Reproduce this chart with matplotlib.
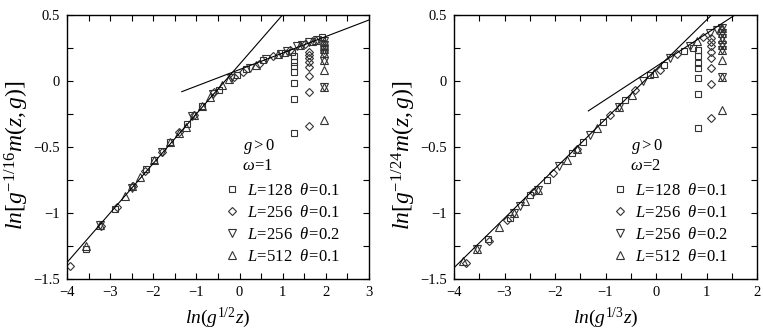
import matplotlib
matplotlib.use("Agg")
import matplotlib.pyplot as plt
from matplotlib.lines import Line2D
from matplotlib.ticker import MultipleLocator

plt.rcParams['font.family'] = ['Liberation Serif', 'DejaVu Serif']
plt.rcParams['mathtext.fontset'] = 'custom'
plt.rcParams['mathtext.rm'] = 'Liberation Serif'
plt.rcParams['mathtext.it'] = 'Liberation Serif:italic'
plt.rcParams['mathtext.bf'] = 'Liberation Serif:bold'

# ---------------- Panel 1 (omega = 1) ----------------
p1_sq_x = [-3.56, -2.88, -2.17, -1.98, -1.61, -1.22, -0.86, -0.48, -0.07, 0.16, 0.55, 1.05, 1.22, 1.90,
           1.27, 1.27, 1.27, 1.27, 1.27, 1.27, 1.27]
p1_sq_y = [-1.27, -0.97, -0.67, -0.60, -0.46, -0.33, -0.19, -0.07, 0.04, 0.09, 0.16, 0.21, 0.22, 0.33,
           0.19, 0.14, 0.11, 0.07, -0.015, -0.14, -0.395]
p1_dm_x = [-3.92, -3.22, -2.83, -2.46, -2.19, -1.79, -1.40, -1.05, -0.59, -0.12, 0.07, 0.45, 0.78, 1.17, 1.51,
           1.62, 1.62, 1.62, 1.62, 1.62, 1.62, 1.62, 1.62]
p1_dm_y = [-1.40, -1.10, -0.955, -0.80, -0.68, -0.54, -0.39, -0.26, -0.085, 0.03, 0.07, 0.13, 0.19, 0.23, 0.275,
           0.215, 0.195, 0.17, 0.145, 0.105, 0.035, -0.085, -0.345]
p1_dt_x = [-3.23, -2.50, -1.79, -1.10, -0.62, -0.19, 0.25, 0.62, 0.95, 1.10, 1.32, 1.45, 1.62, 1.80,
           1.96, 1.96, 1.96, 1.96, 1.96, 1.96]
p1_dt_y = [-1.09, -0.81, -0.54, -0.27, -0.10, 0.02, 0.10, 0.165, 0.205, 0.225, 0.26, 0.27, 0.29, 0.31,
           0.30, 0.27, 0.23, 0.20, 0.15, -0.05]
p1_ut_x = [-3.56, -3.23, -2.65, -2.50, -2.30, -1.98, -1.61, -1.40, -1.25, -1.05, -0.86, -0.68, -0.40, -0.24,
           0.38, 0.90, 1.40, 1.67, 1.78,
           1.96, 1.96, 1.96, 1.96, 1.96, 1.96, 1.96, 1.96]
p1_ut_y = [-1.25, -1.09, -0.87, -0.80, -0.727, -0.596, -0.46, -0.394, -0.35, -0.26, -0.19, -0.12, -0.03, 0.013,
           0.116, 0.20, 0.27, 0.30, 0.31,
           0.30, 0.27, 0.24, 0.21, 0.16, 0.08, -0.05, -0.30]
# fitted lines (slope, intercept, x range)
p1_line_steep = (0.375, 0.125, (-4.0, 3.0))
p1_line_flat = (0.125, 0.085, (-1.34, 3.0))

# ---------------- Panel 2 (omega = 2) ----------------
p2_sq_x = [-3.32, -2.90, -2.49, -2.16, -1.67, -1.44, -1.05, -0.61, -0.11, 0.15, 0.55, 0.74,
           0.83, 0.83, 0.83, 0.83, 0.83, 0.83, 0.83]
p2_sq_y = [-1.20, -1.035, -0.866, -0.75, -0.545, -0.462, -0.31, -0.146, 0.043, 0.12, 0.227, 0.25,
           0.234, 0.19, 0.133, 0.095, 0.02, -0.10, -0.36]
p2_dm_x = [-3.76, -3.30, -2.96, -2.43, -2.03, -1.57, -0.91, -0.41, 0.07, 0.41, 0.94,
           1.08, 1.08, 1.08, 1.08, 1.08, 1.08, 1.08, 1.08]
p2_dm_y = [-1.38, -1.21, -1.056, -0.84, -0.70, -0.52, -0.26, -0.07, 0.08, 0.20, 0.33,
           0.32, 0.29, 0.26, 0.215, 0.17, 0.095, -0.025, -0.28]
p2_dt_x = [-3.55, -2.82, -2.70, -2.34, -1.93, -1.30, -0.74, -0.25, 0.28, 0.68, 1.07, 1.21,
           1.31, 1.31, 1.31, 1.31, 1.31, 1.31]
p2_dt_y = [-1.27, -1.0, -0.95, -0.83, -0.645, -0.41, -0.20, -0.005, 0.17, 0.26, 0.36, 0.385,
           0.40, 0.36, 0.32, 0.27, 0.235, 0.03]
p2_ut_x = [-3.815, -3.55, -3.11, -2.82, -2.59, -2.34, -1.77, -1.57, -1.17, -0.74, -0.48, -0.03, 0.81, 1.29,
           1.31, 1.31, 1.31, 1.31, 1.31, 1.31, 1.31, 1.31]
p2_ut_y = [-1.366, -1.27, -1.11, -1.0, -0.91, -0.83, -0.596, -0.52, -0.36, -0.20, -0.11, 0.06, 0.30, 0.40,
           0.397, 0.36, 0.317, 0.27, 0.234, 0.158, 0.032, -0.22]
p2_line_steep = (0.375, 0.085, (-4.0, 2.0))
p2_line_flat = (0.25, 0.107, (-1.34, 2.0))

legend_labels = [r"$L\!=\!128$  $\theta\!=\!0.1$", r"$L\!=\!256$  $\theta\!=\!0.1$",
                 r"$L\!=\!256$  $\theta\!=\!0.2$", r"$L\!=\!512$  $\theta\!=\!0.1$"]

EC = '#333333'
mstyle = [dict(marker='s', ms=4.3), dict(marker='D', ms=4.0),
          dict(marker='v', ms=5.2), dict(marker='^', ms=5.2)]

fig = plt.figure(figsize=(7.63, 3.32), dpi=100)
W, H = 763.0, 332.0
ax1 = fig.add_axes([67 / W, (H - 279) / H, 302 / W, 264.3 / H])
ax2 = fig.add_axes([454 / W, (H - 279) / H, 303 / W, 264.3 / H])


def fmt(v, p):
    return ('\u2212' if v < 0 else '') + ('%g' % abs(v))


def draw(ax, series, lines, xlim, xlabel, ylabel, omega_txt):
    for (xs, ys), st in zip(series, mstyle):
        ax.plot(xs, ys, linestyle='none', mfc='none', mec=EC, mew=0.8, **st)
    for slope, icpt, (a, b) in lines:
        ax.plot([a, b], [slope * a + icpt, slope * b + icpt], color='black', lw=0.8)
    ax.set_xlim(*xlim)
    ax.set_ylim(-1.5, 0.5)
    ax.xaxis.set_major_locator(MultipleLocator(1))
    ax.xaxis.set_minor_locator(MultipleLocator(0.5))
    ax.yaxis.set_major_locator(MultipleLocator(0.5))
    ax.yaxis.set_minor_locator(MultipleLocator(0.25))
    ax.tick_params(which='both', direction='in', top=True, right=True, length=4, width=0.8,
                   labelsize=10.5, pad=5)
    ax.yaxis.set_major_formatter(plt.FuncFormatter(fmt))
    ax.xaxis.set_major_formatter(plt.FuncFormatter(fmt))
    for s in ax.spines.values():
        s.set_linewidth(1.0)
    ax.set_xlabel(xlabel, fontsize=14)
    ax.xaxis.set_label_coords(0.5, -39 / 264.3)
    ax.xaxis.label.set_va('center')
    ax.set_ylabel(ylabel, fontsize=17)
    ax.yaxis.set_label_coords(-50 / 302, 0.47)
    ax.yaxis.label.set_va('center')
    ax.text(0.583, 0.50, r'$g>0$', transform=ax.transAxes, fontsize=12, va='center', ha='left')
    ax.text(0.580, 0.429, omega_txt, transform=ax.transAxes, fontsize=12, va='center', ha='left')
    handles = [Line2D([], [], linestyle='none', mfc='none', mec=EC, mew=0.8, **st) for st in mstyle]
    ax.legend(handles, legend_labels, loc='upper left', bbox_to_anchor=(0.525, 0.362),
              frameon=False, handlelength=0.8, handletextpad=0.5, labelspacing=0.36,
              borderpad=0, borderaxespad=0, fontsize=12)


draw(ax1, [(p1_sq_x, p1_sq_y), (p1_dm_x, p1_dm_y), (p1_dt_x, p1_dt_y), (p1_ut_x, p1_ut_y)],
     [p1_line_steep, p1_line_flat], (-4, 3),
     r'$ln(g^{1/2}z)$', r'$ln[g^{-1/16}m(z,g)]$', r'$\omega\!=\!1$')
draw(ax2, [(p2_sq_x, p2_sq_y), (p2_dm_x, p2_dm_y), (p2_dt_x, p2_dt_y), (p2_ut_x, p2_ut_y)],
     [p2_line_steep, p2_line_flat], (-4, 2),
     r'$ln(g^{1/3}z)$', r'$ln[g^{-1/24}m(z,g)]$', r'$\omega\!=\!2$')

fig.savefig('out.png', dpi=100)
